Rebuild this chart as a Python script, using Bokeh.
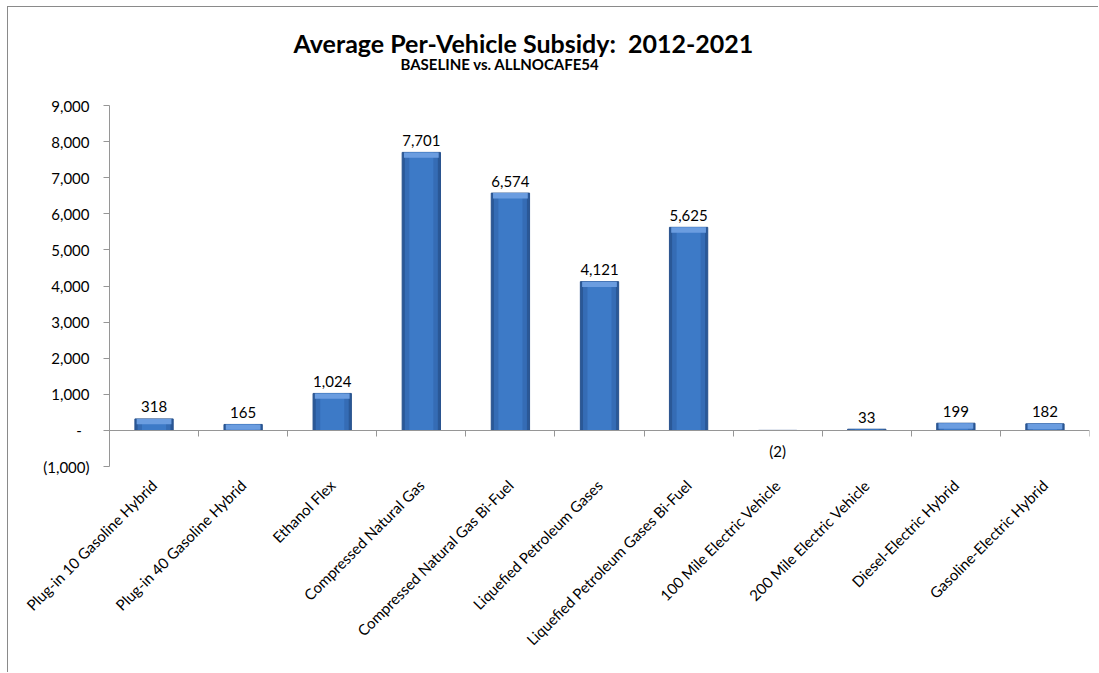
import math
from bokeh.plotting import figure
from bokeh.models import (ColumnDataSource, Range1d, LinearAxis, FixedTicker,
                          CustomJSTickFormatter, Title)
from bokeh.core.properties import value
from bokeh.embed import file_html
from bokeh.resources import INLINE

categories = ["Plug-in 10 Gasoline Hybrid", "Plug-in 40 Gasoline Hybrid", "Ethanol Flex",
              "Compressed Natural Gas", "Compressed Natural Gas Bi-Fuel",
              "Liquefied Petroleum Gases", "Liquefied Petroleum Gases Bi-Fuel",
              "100 Mile Electric Vehicle", "200 Mile Electric Vehicle",
              "Diesel-Electric Hybrid", "Gasoline-Electric Hybrid"]
subsidy = [318, 165, 1024, 7701, 6574, 4121, 5625, -2, 33, 199, 182]
y_ticks = [-1000, 0, 1000, 2000, 3000, 4000, 5000, 6000, 7000, 8000, 9000]

FONT = "Lato"
GRID = "#969696"

def fmt(v):
    s = f"{abs(v):,}"
    return f"({s})" if v < 0 else s

xs = [i + 0.5 for i in range(len(categories))]
src = ColumnDataSource(dict(
    x=xs, top=subsidy,
    cap_bottom=[v - min(v, 150) if v > 40 else float("nan") for v in subsidy],
    cap_top=[v if v > 40 else float("nan") for v in subsidy],
    label=[fmt(v) for v in subsidy],
    pos_y=[v if v >= 0 else float("nan") for v in subsidy],
    neg_y=[v if v < 0 else float("nan") for v in subsidy],
))

p = figure(width=1091, height=666, output_backend="svg", toolbar_location=None,
           x_range=Range1d(0, len(categories)), y_range=Range1d(-1000, 9000),
           min_border_left=101, min_border_right=10, min_border_top=98,
           min_border_bottom=207, x_axis_type=None, y_axis_type=None,
           background_fill_color="white", border_fill_color="white")
p.styles = {"margin-left": "7px", "margin-top": "6px",
            "border-left": "1px solid #8a8a8a", "border-top": "1px solid #8a8a8a"}
p.outline_line_color = None

# y axis
yaxis = LinearAxis(ticker=FixedTicker(ticks=y_ticks),
                   formatter=CustomJSTickFormatter(code="""
                       if (tick == 0) { return "-\u00a0\u00a0"; }
                       const s = Math.abs(tick).toLocaleString('en-US');
                       return tick < 0 ? "(" + s + ")" : s;
                   """))
yaxis.axis_line_color = GRID
yaxis.major_tick_line_color = GRID
yaxis.major_tick_out = 6
yaxis.major_tick_in = 0
yaxis.minor_tick_line_color = None
yaxis.major_label_text_font = FONT
yaxis.major_label_text_font_size = "15px"
yaxis.major_label_text_color = "black"
yaxis.major_label_standoff = 14
p.add_layout(yaxis, "left")
p.ygrid.ticker = FixedTicker(ticks=y_ticks)
p.ygrid.grid_line_color = GRID

# category labels
xaxis = LinearAxis(ticker=FixedTicker(ticks=xs),
                   major_label_overrides={x: c for x, c in zip(xs, categories)})
xaxis.axis_line_color = None
xaxis.major_tick_line_color = None
xaxis.minor_tick_line_color = None
xaxis.major_label_orientation = math.pi / 4
xaxis.major_label_text_font = FONT
xaxis.major_label_text_font_size = "15px"
xaxis.major_label_text_color = "black"
xaxis.major_label_standoff = 10
p.add_layout(xaxis, "below")

# zero line with category boundary ticks
zaxis = LinearAxis(fixed_location=0,
                   ticker=FixedTicker(ticks=list(range(len(categories) + 1))))
zaxis.axis_line_color = GRID
zaxis.major_tick_line_color = GRID
zaxis.major_tick_in = 6
zaxis.major_tick_out = 0
zaxis.minor_tick_line_color = None
zaxis.major_label_text_font_size = "0px"
zaxis.major_label_text_alpha = 0
zaxis.major_label_standoff = 0
p.add_layout(zaxis, "above")

# bars (layered to suggest the bevelled look)
p.vbar(x="x", top="top", bottom=0, width=0.43, source=src,
       fill_color="#2a5897", line_color="#28528d")
p.vbar(x="x", top="top", bottom=0, width=0.37, source=src,
       fill_color="#356cb5", line_color=None)
p.vbar(x="x", top="top", bottom=0, width=0.27, source=src,
       fill_color="#3d7ac7", line_color=None)
p.vbar(x="x", top="cap_top", bottom="cap_bottom", width=0.39, source=src,
       fill_color="#6b9de0", line_color=None)

# value labels
p.text(x="x", y="pos_y", text="label", source=src, text_align="center",
       text_baseline="alphabetic", y_offset=-12, text_font=value(FONT),
       text_font_size="15px", text_color="black")
p.text(x="x", y="neg_y", text="label", source=src, text_align="center",
       text_baseline="top", y_offset=12, text_font=value(FONT),
       text_font_size="15px", text_color="black")

# spacer between plot area and subtitle
p.add_layout(Title(text="\u00a0", text_font_size="1px", standoff=30), "above")
p.add_layout(Title(text="BASELINE vs. ALLNOCAFE54", align="left", offset=291,
                   text_font=FONT, text_font_style="bold", text_font_size="15px",
                   text_color="black", standoff=0), "above")
p.add_layout(Title(text="Average Per-Vehicle Subsidy:\u00a0 2012-2021", align="left",
                   offset=184, text_font=FONT, text_font_style="bold",
                   text_font_size="25px", text_color="black", standoff=-10), "above")

open("out.html", "w").write(file_html(p, INLINE))
